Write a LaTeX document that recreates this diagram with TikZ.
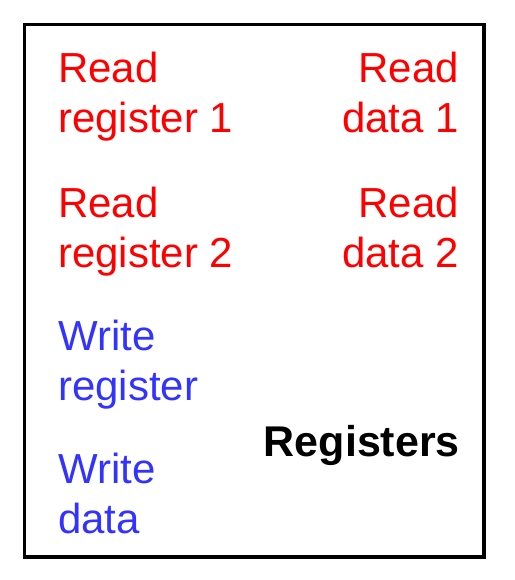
\documentclass[tikz,border=0pt]{standalone}
\usepackage{fontspec}
\setmainfont{Liberation Sans}
\definecolor{readred}{HTML}{FF0000}
\definecolor{writeblue}{HTML}{3333FF}
\begin{document}
\begin{tikzpicture}[x=1pt,y=-1pt,
    lbl/.style={inner sep=0pt,font=\fontsize{42}{50}\selectfont},
    rdin/.style={lbl,text=readred,anchor=base west,align=left},
    rdout/.style={lbl,text=readred,anchor=base east,align=right},
    wrin/.style={lbl,text=writeblue,anchor=base west,align=left}]
  \useasboundingbox (0,0) rectangle (514,580);
  \draw[line width=3.5pt] (24.5,24.5) rectangle (484,557);
  \node[rdin] (rreg1) at (58,133) {Read\\register 1};
  \node[rdin] (rreg2) at (58,267) {Read\\register 2};
  \node[wrin] (wreg) at (58,400) {Write\\register};
  \node[wrin] (wdata) at (58,533) {Write\\data};
  \node[rdout] (rdata1) at (459,133) {Read\\data 1};
  \node[rdout] (rdata2) at (459,267) {Read\\data 2};
  \node[lbl,anchor=base east,font=\fontsize{43}{50}\selectfont\bfseries] (regs) at (460,456) {Registers};
\end{tikzpicture}
\end{document}
